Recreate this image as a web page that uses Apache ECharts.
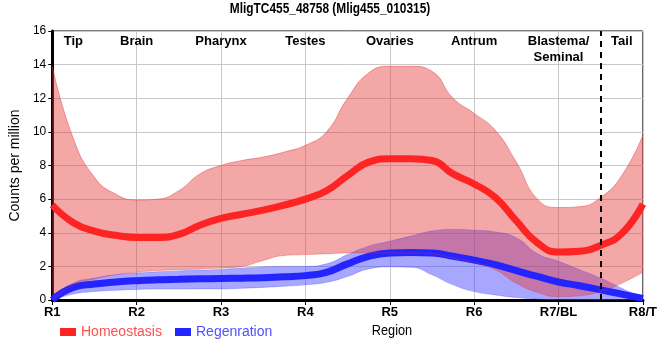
<!DOCTYPE html>
<html><head><meta charset="utf-8">
<script src="https://cdn.jsdelivr.net/npm/echarts@6/dist/echarts.min.js"></script>
<style>html,body{margin:0;padding:0;background:#fff}#c{width:660px;height:360px}</style>
</head><body><div id="c"></div>
<script>
// x positions (region units, R1 = 1 ... R8 = 8)
const xVals = [1,1.25,1.5,1.75,2,2.25,2.5,2.75,3,3.25,3.5,3.75,4,4.25,4.5,4.75,5,5.25,5.5,5.75,6,6.25,6.5,6.75,7,7.25,7.5,7.75,8];
const tickLabels = ['R1','R2','R3','R4','R5','R6','R7/BL','R8/T'];
const regionNames = ['Tip','Brain','Pharynx','Testes','Ovaries','Antrum','Blastema/\nSeminal','Tail'];

// Homeostasis
const homeoMean = [5.65,4.6,4.1,3.85,3.72,3.72,3.9,4.45,4.85,5.1,5.35,5.65,6.0,6.5,7.4,8.2,8.4,8.4,8.3,7.5,6.9,6.1,4.7,3.4,2.85,2.9,3.25,3.95,5.7];
const homeoUpper = [13.9,9.6,7.3,6.3,5.95,6.0,6.5,7.5,8.0,8.3,8.5,8.8,9.2,10.0,12.0,13.5,13.9,13.9,13.6,12.0,11.1,10.1,8.2,6.0,5.5,5.55,6.1,7.4,9.8];
const homeoLower = [0,0.9,1.25,1.5,1.65,1.75,1.8,1.85,1.9,2.0,2.35,2.65,2.7,2.75,2.8,2.8,2.8,2.8,2.75,2.5,2.25,1.8,1.0,0.45,0.2,0.25,0.5,1.0,1.65];
// Regeneration
const regenMean = [0,0.75,0.95,1.07,1.15,1.2,1.23,1.26,1.28,1.3,1.33,1.38,1.45,1.65,2.15,2.6,2.8,2.83,2.8,2.6,2.37,2.1,1.75,1.4,1.07,0.85,0.6,0.35,0.1];
const regenUpper = [0,1.0,1.3,1.5,1.6,1.68,1.73,1.78,1.82,1.9,1.97,2.0,2.0,2.15,2.7,3.2,3.5,3.8,4.1,4.2,4.15,4.05,3.7,2.75,2.3,1.8,1.3,0.7,0.1];
const regenLower = [0,0.35,0.5,0.58,0.63,0.65,0.65,0.66,0.66,0.7,0.75,0.82,0.9,1.05,1.4,1.85,1.97,1.95,1.5,0.9,0.5,0.3,0.15,0.05,0,0,0,0,0];

const SANS = '"Liberation Sans",Arial,sans-serif';
const SM = 0.5;
const diff = (a,b)=>a.map((v,i)=>+(v-b[i]).toFixed(3));

const chart = echarts.init(document.getElementById('c'), null, {renderer:'canvas'});
const option = {
  animation:false,
  grid:{left:50, right:9, top:31, bottom:60, show:true, borderColor:'#000', borderWidth:1},
  legend:[
    {left:55, top:320, itemWidth:16, itemHeight:8, icon:'rect',
      data:[{name:'Homeostasis', textStyle:{color:'#ff5050'}}],
      textStyle:{fontFamily:SANS, fontSize:14}},
    {left:170, top:320, itemWidth:16, itemHeight:8, icon:'rect',
      data:[{name:'Regenration', textStyle:{color:'#5050ff'}}],
      textStyle:{fontFamily:SANS, fontSize:14}}
  ],
  xAxis:{type:'category', data:xVals.map(String), boundaryGap:false,
    axisLine:{lineStyle:{color:'#000', width:3}},
    axisTick:{interval:3, lineStyle:{color:'#000'}, length:5},
    axisLabel:{interval:3, margin:6, formatter:(v,i)=>tickLabels[Math.round(i/4)], fontFamily:SANS, fontWeight:'bold', fontSize:13, color:'#000'},
    splitLine:{show:true, interval:3, lineStyle:{color:'#c8c8c8'}}},
  yAxis:{type:'value', min:0, max:16, interval:2, name:'Counts per million', nameLocation:'middle', nameGap:30,
    nameTextStyle:{fontFamily:SANS, fontSize:14, color:'#000'},
    axisLine:{show:true, lineStyle:{color:'#000', width:3}},
    axisTick:{show:true, length:4, lineStyle:{color:'#000'}},
    axisLabel:{fontFamily:SANS, fontSize:12, color:'#000', margin:6},
    splitLine:{lineStyle:{color:'#c8c8c8'}}},
  series:[
    {name:'regenLo', type:'line', stack:'r', data:regenLower, smooth:SM, symbol:'none', silent:true,
      lineStyle:{width:0.8, color:'rgba(60,60,255,0.35)'}},
    {name:'regenBand', type:'line', stack:'r', data:diff(regenUpper,regenLower), smooth:SM, symbol:'none', silent:true,
      lineStyle:{width:0.8, color:'rgba(60,60,255,0.35)'}, areaStyle:{color:'rgba(60,60,255,0.45)', opacity:1}},
    {name:'Regenration', type:'line', data:regenMean, smooth:SM, symbol:'none',
      itemStyle:{color:'#2424ff'}, lineStyle:{width:7, color:'#2424ff'}},
    {name:'homeoLo', type:'line', stack:'h', data:homeoLower, smooth:SM, symbol:'none', silent:true,
      lineStyle:{width:0.8, color:'rgba(230,60,60,0.45)'}},
    {name:'homeoBand', type:'line', stack:'h', data:diff(homeoUpper,homeoLower), smooth:SM, symbol:'none', silent:true,
      lineStyle:{width:0.8, color:'rgba(230,60,60,0.6)'}, areaStyle:{color:'rgba(230,60,60,0.45)', opacity:1}},
    {name:'Homeostasis', type:'line', data:homeoMean, smooth:SM, symbol:'none',
      itemStyle:{color:'#ff2424'}, lineStyle:{width:7, color:'#ff2424'},
      markLine:{silent:true, symbol:'none', label:{show:false},
        lineStyle:{color:'#000', width:2, type:[6,5]},
        data:[{xAxis:xVals.indexOf(7.5)}]}}
  ]
};
chart.setOption(option);

// region labels along the top, anchored at region positions
const regionAnchors = [1.22,2,3,4,5,6,7,7.77];
const g = regionNames.map((t,i)=>{
  const x = chart.convertToPixel({xAxisIndex:0}, (regionAnchors[i]-1)*4);
  return {type:'text', x:x, y:33, style:{text:t, align:'center', verticalAlign:'top', fontFamily:SANS, fontWeight:'bold', fontSize:13, fill:'#000', lineHeight:16}};
});
g.push({type:'text', x:330, y:2, scaleX:0.85, style:{text:'MligTC455_48758 (Mlig455_010315)', align:'center', verticalAlign:'top', fontFamily:SANS, fontWeight:'bold', fontSize:14, fill:'#000'}});
g.push({type:'text', x:392, y:323, scaleX:0.85, style:{text:'Region', align:'center', verticalAlign:'top', fontFamily:SANS, fontSize:15, fill:'#000'}});
chart.setOption({graphic:g});
</script>
</body></html>
